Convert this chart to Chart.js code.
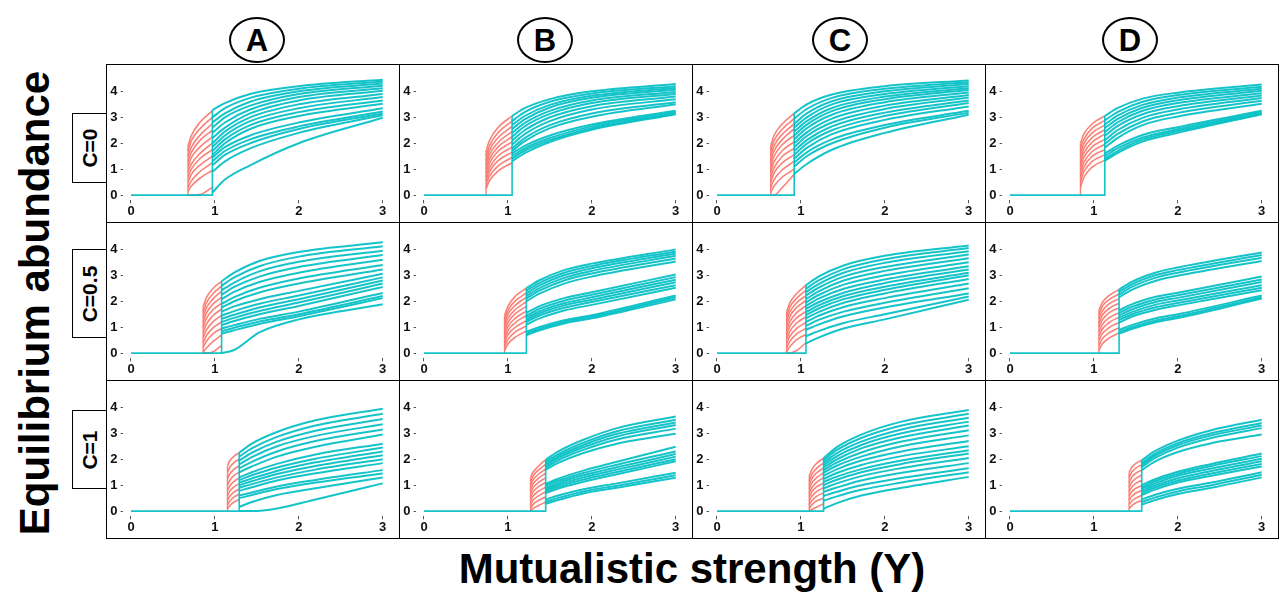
<!DOCTYPE html>
<html>
<head>
<meta charset="utf-8">
<script src="https://cdn.jsdelivr.net/npm/chart.js@4.4.1/dist/chart.umd.min.js"></script>
<style>
  body { margin: 0; width: 1279px; height: 603px; background: #fff; position: relative; overflow: hidden; font-family: "Liberation Sans", Arial, sans-serif; }
  .panel { position: absolute; width: 294px; height: 159px; border: 1px solid #000; box-sizing: border-box; }
  .panel .wrap { position: absolute; left: 0; top: 0; right: 0; bottom: 0; }
  .head { position: absolute; width: 56px; height: 46px; box-sizing: border-box; border: 2.5px solid #000; border-radius: 50%; font-weight: bold; font-size: 31px; line-height: 44px; text-align: center; }
  .rowlab { position: absolute; left: 72px; width: 35px; border: 1px solid #000; box-sizing: border-box; background: #fff; }
  .rowlab span { position: absolute; left: 50%; top: 50%; transform: translate(-50%, -50%) rotate(-90deg); font-weight: bold; font-size: 21px; white-space: nowrap; }
  .ytitle { position: absolute; left: 35px; top: 303px; transform: translate(-50%, -50%) rotate(-90deg); font-weight: bold; font-size: 42px; white-space: nowrap; }
  .xtitle { position: absolute; left: 692px; top: 569px; transform: translate(-50%, -50%); font-weight: bold; font-size: 42px; white-space: nowrap; }
</style>
</head>
<body>
<div class="ytitle">Equilibrium abundance</div>
<div class="xtitle">Mutualistic strength (Y)</div>
<script>
const columns = ["A", "B", "C", "D"];
const rowLabels = ["C=0", "C=0.5", "C=1"];
const xTicks = [0, 1, 2, 3];
const yTicks = [0, 1, 2, 3, 4];

// ---- C=0 ----
const redX_A0 = [0.68, 0.72, 0.82, 0.97];
const red_A0 = [
  [1.9, 2.3, 2.8, 3.25], [1.7, 2.1, 2.55, 3.0], [1.5, 1.85, 2.3, 2.75], [1.3, 1.65, 2.1, 2.5],
  [1.1, 1.45, 1.85, 2.25], [0.9, 1.2, 1.6, 2.0], [0.7, 1.0, 1.4, 1.75], [0.5, 0.8, 1.15, 1.5],
  [0.3, 0.55, 0.9, 1.25], [0.15, 0.35, 0.65, 0.95], [0, 0, 0.02, 0.3]
];
const tealX_A0 = [0.97, 1.12, 1.42, 2.0, 3.0];
const teal_A0 = [
  [3.28, 3.55, 3.9, 4.2, 4.45], [3.0, 3.35, 3.75, 4.1, 4.38], [2.8, 3.15, 3.6, 4.0, 4.3],
  [2.6, 3.0, 3.45, 3.9, 4.22], [2.4, 2.8, 3.3, 3.78, 4.12], [2.2, 2.6, 3.15, 3.65, 4.02],
  [2.0, 2.45, 3.0, 3.5, 3.9], [1.85, 2.3, 2.85, 3.35, 3.78], [1.7, 2.15, 2.7, 3.2, 3.65],
  [1.55, 2.0, 2.55, 3.05, 3.52], [1.45, 1.85, 2.3, 2.8, 3.35], [1.3, 1.7, 2.15, 2.65, 3.22],
  [1.15, 1.55, 2.0, 2.55, 3.15], [0.9, 1.3, 1.8, 2.4, 3.08], [0.1, 0.6, 1.15, 2.0, 2.98]
];

const redX_B0 = [0.74, 0.78, 0.88, 1.05];
const red_B0 = [
  [1.7, 2.1, 2.6, 3.05], [1.5, 1.9, 2.4, 2.85], [1.3, 1.72, 2.2, 2.65], [1.15, 1.55, 2.02, 2.45],
  [1.0, 1.38, 1.85, 2.25], [0.85, 1.22, 1.68, 2.05], [0.7, 1.05, 1.5, 1.85], [0.55, 0.9, 1.32, 1.65],
  [0.4, 0.72, 1.12, 1.45], [0.25, 0.55, 0.92, 1.25]
];
const tealX_B0 = [1.05, 1.2, 1.5, 2.0, 3.0];
const teal_B0 = [
  [3.05, 3.35, 3.7, 4.0, 4.28], [2.85, 3.2, 3.6, 3.92, 4.2], [2.7, 3.05, 3.48, 3.83, 4.13],
  [2.55, 2.92, 3.38, 3.75, 4.06], [2.4, 2.78, 3.25, 3.65, 3.98], [2.25, 2.65, 3.13, 3.55, 3.9],
  [2.1, 2.5, 3.0, 3.43, 3.8], [1.95, 2.35, 2.85, 3.3, 3.7], [1.8, 2.2, 2.7, 3.15, 3.58],
  [1.7, 2.08, 2.58, 3.02, 3.5], [1.6, 1.9, 2.3, 2.72, 3.25], [1.5, 1.8, 2.2, 2.65, 3.2],
  [1.4, 1.72, 2.12, 2.58, 3.15], [1.3, 1.62, 2.05, 2.52, 3.12]
];

const redX_C0 = [0.64, 0.68, 0.78, 0.92];
const red_C0 = [
  [1.9, 2.3, 2.75, 3.15], [1.7, 2.1, 2.55, 2.95], [1.5, 1.9, 2.35, 2.75], [1.3, 1.7, 2.15, 2.55],
  [1.1, 1.5, 1.95, 2.3], [0.9, 1.28, 1.72, 2.05], [0.7, 1.05, 1.5, 1.8], [0.5, 0.85, 1.25, 1.55],
  [0.3, 0.6, 0.98, 1.3], [0.1, 0.35, 0.7, 1.0], [0, 0, 0.3, 0.8]
];
const tealX_C0 = [0.92, 1.07, 1.37, 2.0, 3.0];
const teal_C0 = [
  [3.15, 3.5, 3.88, 4.2, 4.42], [2.95, 3.32, 3.75, 4.1, 4.35], [2.75, 3.15, 3.62, 4.0, 4.28],
  [2.6, 3.0, 3.5, 3.9, 4.2], [2.45, 2.85, 3.36, 3.8, 4.12], [2.3, 2.72, 3.24, 3.7, 4.05],
  [2.15, 2.58, 3.1, 3.58, 3.96], [2.0, 2.42, 2.95, 3.45, 3.86], [1.85, 2.28, 2.8, 3.32, 3.76],
  [1.7, 2.12, 2.65, 3.18, 3.65], [1.55, 1.98, 2.5, 3.05, 3.55], [1.4, 1.82, 2.35, 2.9, 3.42],
  [1.25, 1.65, 2.15, 2.7, 3.25], [1.1, 1.5, 2.0, 2.6, 3.18], [0.82, 1.2, 1.75, 2.4, 3.1]
];

const redX_D0 = [0.84, 0.88, 0.98, 1.13];
const red_D0 = [
  [2.0, 2.35, 2.75, 3.05], [1.8, 2.15, 2.58, 2.88], [1.6, 1.98, 2.4, 2.7], [1.42, 1.8, 2.22, 2.52],
  [1.25, 1.62, 2.04, 2.35], [1.08, 1.45, 1.86, 2.15], [0.9, 1.26, 1.68, 1.95], [0.72, 1.08, 1.5, 1.75],
  [0.52, 0.9, 1.3, 1.55], [0.3, 0.68, 1.08, 1.35]
];
const tealX_D0 = [1.13, 1.28, 1.58, 2.0, 3.0];
const teal_D0 = [
  [3.05, 3.35, 3.72, 3.95, 4.26], [2.88, 3.2, 3.6, 3.86, 4.18], [2.72, 3.06, 3.48, 3.76, 4.1],
  [2.58, 2.93, 3.37, 3.66, 4.02], [2.43, 2.8, 3.25, 3.55, 3.93], [2.28, 2.66, 3.12, 3.43, 3.84],
  [2.12, 2.5, 2.98, 3.3, 3.74], [1.98, 2.35, 2.84, 3.17, 3.64], [1.83, 2.2, 2.7, 3.03, 3.52],
  [1.6, 1.9, 2.32, 2.62, 3.25], [1.5, 1.8, 2.22, 2.54, 3.2], [1.4, 1.7, 2.14, 2.47, 3.15],
  [1.32, 1.62, 2.06, 2.4, 3.12]
];

// ---- C=0.5 ----
const redX_A1 = [0.86, 0.9, 0.98, 1.08];
const red_A1 = [
  [1.8, 2.15, 2.5, 2.77], [1.6, 1.95, 2.3, 2.58], [1.4, 1.75, 2.1, 2.38], [1.2, 1.55, 1.9, 2.15],
  [1.0, 1.34, 1.68, 1.92], [0.8, 1.12, 1.45, 1.7], [0.6, 0.9, 1.22, 1.45], [0.4, 0.68, 0.98, 1.2],
  [0.22, 0.46, 0.75, 0.95], [0.05, 0.2, 0.45, 0.7], [0, 0, 0.05, 0.3]
];
const tealX_A1 = [1.08, 1.23, 1.53, 2.0, 3.0];
const teal_A1 = [
  [2.77, 3.1, 3.55, 3.9, 4.27], [2.6, 2.92, 3.35, 3.72, 4.12], [2.42, 2.72, 3.15, 3.52, 3.95],
  [2.25, 2.55, 2.95, 3.32, 3.78], [2.08, 2.36, 2.74, 3.1, 3.6], [1.9, 2.16, 2.52, 2.88, 3.4],
  [1.75, 2.0, 2.34, 2.68, 3.22], [1.6, 1.8, 2.08, 2.4, 3.06], [1.45, 1.62, 1.9, 2.22, 2.92],
  [1.32, 1.48, 1.76, 2.08, 2.8], [1.2, 1.36, 1.62, 1.95, 2.68], [1.08, 1.24, 1.5, 1.82, 2.55],
  [0.95, 1.08, 1.32, 1.6, 2.32], [0.85, 0.98, 1.22, 1.5, 2.2], [0.75, 0.88, 1.12, 1.42, 2.12],
  [0, 0.12, 0.8, 1.3, 1.88]
];

const redX_B1 = [0.96, 1.0, 1.09, 1.22];
const red_B1 = [
  [1.45, 1.8, 2.2, 2.5], [1.3, 1.65, 2.02, 2.32], [1.15, 1.5, 1.85, 2.15], [1.0, 1.34, 1.68, 1.98],
  [0.85, 1.18, 1.52, 1.8], [0.7, 1.02, 1.35, 1.62], [0.55, 0.86, 1.18, 1.45], [0.4, 0.7, 1.0, 1.25],
  [0.25, 0.52, 0.82, 1.05], [0.1, 0.35, 0.62, 0.85]
];
const tealX_B1 = [1.22, 1.37, 1.67, 2.0, 3.0];
const teal_B1 = [
  [2.5, 2.8, 3.2, 3.45, 4.0], [2.4, 2.7, 3.1, 3.36, 3.92], [2.3, 2.6, 3.0, 3.27, 3.84],
  [2.2, 2.5, 2.9, 3.17, 3.75], [2.1, 2.4, 2.8, 3.07, 3.65], [2.0, 2.28, 2.68, 2.95, 3.53],
  [1.55, 1.8, 2.12, 2.35, 3.03], [1.45, 1.7, 2.02, 2.25, 2.93], [1.36, 1.6, 1.92, 2.15, 2.83],
  [1.28, 1.52, 1.84, 2.06, 2.73], [1.2, 1.44, 1.75, 1.97, 2.62], [1.1, 1.33, 1.64, 1.86, 2.52],
  [0.82, 1.0, 1.27, 1.46, 2.22], [0.75, 0.93, 1.2, 1.4, 2.15], [0.69, 0.87, 1.14, 1.34, 2.08]
];

const redX_C1 = [0.83, 0.87, 0.95, 1.06];
const red_C1 = [
  [1.6, 1.95, 2.3, 2.62], [1.42, 1.78, 2.12, 2.42], [1.25, 1.6, 1.94, 2.22], [1.08, 1.42, 1.76, 2.02],
  [0.9, 1.22, 1.56, 1.82], [0.72, 1.04, 1.36, 1.6], [0.55, 0.85, 1.16, 1.4], [0.38, 0.66, 0.95, 1.18],
  [0.2, 0.46, 0.74, 0.95], [0.05, 0.25, 0.52, 0.72], [0, 0, 0.1, 0.4]
];
const tealX_C1 = [1.06, 1.21, 1.51, 2.0, 3.0];
const teal_C1 = [
  [2.62, 2.95, 3.38, 3.75, 4.15], [2.48, 2.8, 3.24, 3.62, 4.05], [2.35, 2.66, 3.1, 3.48, 3.93],
  [2.22, 2.52, 2.95, 3.32, 3.8], [2.08, 2.38, 2.8, 3.17, 3.66], [1.95, 2.24, 2.64, 3.0, 3.5],
  [1.82, 2.1, 2.48, 2.84, 3.35], [1.7, 1.96, 2.33, 2.7, 3.22], [1.58, 1.84, 2.2, 2.56, 3.1],
  [1.46, 1.72, 2.08, 2.44, 3.0], [1.34, 1.58, 1.94, 2.3, 2.86], [1.2, 1.44, 1.78, 2.12, 2.68],
  [1.05, 1.28, 1.6, 1.94, 2.5], [0.9, 1.1, 1.42, 1.76, 2.3], [0.65, 0.85, 1.16, 1.5, 2.18],
  [0.37, 0.6, 0.95, 1.3, 2.06]
];

const redX_D1 = [1.06, 1.1, 1.18, 1.3];
const red_D1 = [
  [1.65, 1.95, 2.22, 2.45], [1.48, 1.8, 2.06, 2.28], [1.32, 1.62, 1.9, 2.1], [1.15, 1.45, 1.72, 1.92],
  [1.0, 1.28, 1.55, 1.75], [0.82, 1.1, 1.36, 1.56], [0.65, 0.92, 1.18, 1.38], [0.48, 0.74, 0.98, 1.18],
  [0.3, 0.55, 0.78, 0.98], [0.12, 0.35, 0.58, 0.78]
];
const tealX_D1 = [1.3, 1.45, 1.75, 2.0, 3.0];
const teal_D1 = [
  [2.45, 2.75, 3.12, 3.3, 3.88], [2.35, 2.65, 3.02, 3.2, 3.78], [2.25, 2.55, 2.92, 3.1, 3.68],
  [2.15, 2.44, 2.8, 2.98, 3.55], [1.65, 1.88, 2.18, 2.33, 2.95], [1.55, 1.78, 2.08, 2.23, 2.84],
  [1.45, 1.68, 1.98, 2.13, 2.74], [1.36, 1.58, 1.88, 2.03, 2.62], [1.27, 1.49, 1.78, 1.93, 2.52],
  [1.18, 1.4, 1.68, 1.84, 2.42], [0.9, 1.08, 1.35, 1.5, 2.22], [0.82, 1.0, 1.27, 1.42, 2.15],
  [0.75, 0.93, 1.2, 1.35, 2.1]
];

// ---- C=1 ----
const redX_A2 = [1.15, 1.18, 1.23, 1.29];
const red_A2 = [
  [1.75, 1.95, 2.12, 2.25], [1.5, 1.7, 1.88, 2.0], [1.25, 1.45, 1.62, 1.75], [1.0, 1.2, 1.38, 1.5],
  [0.8, 0.98, 1.15, 1.28], [0.6, 0.78, 0.94, 1.06], [0.42, 0.58, 0.74, 0.85], [0.25, 0.4, 0.55, 0.65],
  [0.1, 0.22, 0.35, 0.45]
];
const tealX_A2 = [1.29, 1.44, 1.74, 2.2, 3.0];
const teal_A2 = [
  [2.25, 2.6, 3.05, 3.5, 3.95], [2.1, 2.42, 2.86, 3.3, 3.75], [1.95, 2.25, 2.68, 3.1, 3.55],
  [1.8, 2.08, 2.5, 2.9, 3.35], [1.65, 1.9, 2.3, 2.7, 3.15], [1.5, 1.72, 2.1, 2.48, 2.95],
  [1.3, 1.5, 1.82, 2.18, 2.6], [1.2, 1.38, 1.68, 2.02, 2.45], [1.1, 1.26, 1.55, 1.88, 2.3],
  [1.0, 1.15, 1.43, 1.74, 2.15], [0.9, 1.04, 1.3, 1.6, 2.0], [0.78, 0.92, 1.18, 1.46, 1.85],
  [0.6, 0.72, 0.95, 1.2, 1.58], [0.5, 0.62, 0.85, 1.1, 1.45], [0.16, 0.35, 0.62, 0.88, 1.3],
  [0, 0, 0.1, 0.45, 1.07]
];

const redX_B2 = [1.27, 1.3, 1.37, 1.45];
const red_B2 = [
  [1.3, 1.5, 1.75, 1.98], [1.15, 1.35, 1.6, 1.8], [1.0, 1.2, 1.44, 1.62], [0.85, 1.05, 1.28, 1.45],
  [0.7, 0.9, 1.12, 1.28], [0.55, 0.74, 0.95, 1.1], [0.4, 0.58, 0.78, 0.92], [0.25, 0.42, 0.6, 0.74],
  [0.1, 0.26, 0.42, 0.55], [0, 0.1, 0.22, 0.35]
];
const tealX_B2 = [1.45, 1.6, 1.9, 2.3, 3.0];
const teal_B2 = [
  [1.98, 2.3, 2.75, 3.2, 3.65], [1.9, 2.2, 2.64, 3.08, 3.52], [1.82, 2.12, 2.55, 2.98, 3.42],
  [1.75, 2.04, 2.46, 2.88, 3.32], [1.68, 1.96, 2.36, 2.76, 3.18], [1.6, 1.86, 2.24, 2.6, 2.98],
  [1.05, 1.25, 1.56, 1.9, 2.48], [0.98, 1.17, 1.47, 1.79, 2.3], [0.9, 1.09, 1.38, 1.69, 2.2],
  [0.84, 1.02, 1.3, 1.6, 2.1], [0.77, 0.95, 1.22, 1.51, 2.0], [0.7, 0.87, 1.13, 1.42, 1.92],
  [0.45, 0.6, 0.84, 1.07, 1.48], [0.36, 0.51, 0.76, 0.98, 1.38], [0.28, 0.43, 0.68, 0.9, 1.29]
];

const redX_C2 = [1.1, 1.13, 1.19, 1.27];
const red_C2 = [
  [1.35, 1.6, 1.85, 2.04], [1.18, 1.42, 1.66, 1.85], [1.02, 1.25, 1.48, 1.66], [0.86, 1.08, 1.3, 1.47],
  [0.7, 0.9, 1.12, 1.28], [0.55, 0.74, 0.94, 1.08], [0.4, 0.57, 0.76, 0.9], [0.25, 0.4, 0.58, 0.7],
  [0.1, 0.24, 0.4, 0.5], [0, 0.06, 0.16, 0.28]
];
const tealX_C2 = [1.27, 1.42, 1.72, 2.2, 3.0];
const teal_C2 = [
  [2.04, 2.45, 2.95, 3.45, 3.9], [1.95, 2.34, 2.82, 3.3, 3.75], [1.86, 2.22, 2.68, 3.15, 3.6],
  [1.77, 2.1, 2.55, 3.0, 3.45], [1.68, 1.98, 2.42, 2.85, 3.3], [1.58, 1.86, 2.26, 2.68, 3.12],
  [1.48, 1.74, 2.1, 2.5, 2.92], [1.36, 1.6, 1.95, 2.3, 2.7], [1.24, 1.46, 1.78, 2.12, 2.5],
  [1.12, 1.32, 1.62, 1.95, 2.35], [1.0, 1.2, 1.5, 1.82, 2.22], [0.88, 1.06, 1.35, 1.66, 2.05],
  [0.74, 0.9, 1.18, 1.48, 1.85], [0.58, 0.74, 1.0, 1.28, 1.65], [0.4, 0.56, 0.82, 1.1, 1.5],
  [0.09, 0.3, 0.6, 0.9, 1.32]
];

const redX_D2 = [1.42, 1.45, 1.5, 1.57];
const red_D2 = [
  [1.5, 1.68, 1.84, 1.96], [1.3, 1.5, 1.66, 1.78], [1.1, 1.3, 1.46, 1.58], [0.92, 1.1, 1.26, 1.38],
  [0.75, 0.92, 1.07, 1.18], [0.58, 0.74, 0.88, 0.98], [0.42, 0.56, 0.7, 0.8], [0.26, 0.38, 0.5, 0.6],
  [0.1, 0.2, 0.32, 0.4]
];
const tealX_D2 = [1.57, 1.72, 2.0, 2.4, 3.0];
const teal_D2 = [
  [1.95, 2.3, 2.72, 3.12, 3.52], [1.85, 2.2, 2.62, 3.0, 3.4], [1.78, 2.12, 2.54, 2.92, 3.3],
  [1.7, 2.03, 2.45, 2.82, 3.2], [1.58, 1.9, 2.28, 2.62, 2.95], [1.0, 1.22, 1.52, 1.82, 2.22],
  [0.92, 1.14, 1.44, 1.74, 2.12], [0.85, 1.06, 1.36, 1.64, 2.02], [0.78, 0.98, 1.27, 1.55, 1.92],
  [0.7, 0.9, 1.18, 1.45, 1.82], [0.62, 0.82, 1.1, 1.36, 1.72], [0.45, 0.62, 0.86, 1.1, 1.5],
  [0.35, 0.52, 0.76, 1.0, 1.4], [0.25, 0.42, 0.66, 0.9, 1.3]
];

const panels = [
  [[redX_A0, red_A0, tealX_A0, teal_A0], [redX_B0, red_B0, tealX_B0, teal_B0], [redX_C0, red_C0, tealX_C0, teal_C0], [redX_D0, red_D0, tealX_D0, teal_D0]],
  [[redX_A1, red_A1, tealX_A1, teal_A1], [redX_B1, red_B1, tealX_B1, teal_B1], [redX_C1, red_C1, tealX_C1, teal_C1], [redX_D1, red_D1, tealX_D1, teal_D1]],
  [[redX_A2, red_A2, tealX_A2, teal_A2], [redX_B2, red_B2, tealX_B2, teal_B2], [redX_C2, red_C2, tealX_C2, teal_C2], [redX_D2, red_D2, tealX_D2, teal_D2]],
];

const teal = "rgba(0,191,196,0.92)";
const red = "rgba(248,118,109,0.92)";
const tickFont = { family: '"Liberation Sans", Arial, sans-serif', size: 13, weight: "bold" };

// headers
const headX = [257, 545, 840, 1130];
columns.forEach((c, i) => {
  const d = document.createElement("div");
  d.className = "head";
  d.style.left = headX[i] - 28 + "px";
  d.style.top = "17px";
  d.textContent = c;
  document.body.appendChild(d);
});

// row labels
const rowBoxes = [[113, 70], [249, 89], [410, 79]];
rowLabels.forEach((t, i) => {
  const d = document.createElement("div");
  d.className = "rowlab";
  d.style.top = rowBoxes[i][0] + "px";
  d.style.height = rowBoxes[i][1] + "px";
  d.innerHTML = "<span>" + t + "</span>";
  document.body.appendChild(d);
});

function curve(xs, ys, color, width, order) {
  return {
    data: xs.map((x, i) => ({ x: x, y: ys[i] })),
    borderColor: color, borderWidth: width, pointRadius: 0,
    cubicInterpolationMode: "monotone", fill: false, order: order,
  };
}

panels.forEach((row, r) => {
  row.forEach((p, c) => {
    const [rx, reds, tx, teals] = p;
    const div = document.createElement("div");
    div.className = "panel";
    div.style.left = 106 + c * 293 + "px";
    div.style.top = 64 + r * 158 + "px";
    div.innerHTML = '<div class="wrap"><canvas></canvas></div>';
    document.body.appendChild(div);

    const xj = tx[0];
    const tealTop = Math.max(...teals.map((t) => t[0]));
    const redTop = Math.max(...reds.map((t) => t[0]));
    const datasets = [];
    // flat branch at zero, then the jump
    datasets.push({
      data: [{ x: 0, y: 0 }, { x: xj, y: 0 }, { x: xj, y: tealTop }],
      borderColor: teal, borderWidth: 1.6, pointRadius: 0, tension: 0, order: 0,
    });
    teals.forEach((t) => datasets.push(curve(tx, t, teal, 2.0, 1)));
    // backward branch
    datasets.push({
      data: [{ x: rx[0], y: 0 }, { x: rx[0], y: redTop }],
      borderColor: red, borderWidth: 1.4, pointRadius: 0, tension: 0, order: 2,
    });
    reds.forEach((t) => datasets.push(curve(rx, t, red, 1.6, 2)));

    new Chart(div.querySelector("canvas").getContext("2d"), {
      type: "line",
      data: { datasets },
      options: {
        responsive: true,
        maintainAspectRatio: false,
        animation: false,
        layout: { padding: { top: 8.3, right: 7.9, left: 0, bottom: 0 } },
        plugins: { legend: { display: false }, tooltip: { enabled: false } },
        scales: {
          x: {
            type: "linear", min: -0.1, max: 3.1,
            afterBuildTicks: (s) => { s.ticks = xTicks.map((v) => ({ value: v })); },
            afterFit: (s) => { s.height = 21.7; },
            grid: { display: true, drawOnChartArea: false, drawTicks: true, tickLength: 3, color: "#555" },
            border: { display: false },
            ticks: { font: tickFont, color: "#111", padding: 0, maxRotation: 0 },
          },
          y: {
            type: "linear", min: -0.2, max: 4.6,
            afterBuildTicks: (s) => { s.ticks = yTicks.map((v) => ({ value: v })); },
            afterFit: (s) => { s.width = 15.6; },
            grid: { display: true, drawOnChartArea: false, drawTicks: true, tickLength: 2, color: "#555" },
            border: { display: false },
            ticks: { font: tickFont, color: "#111", padding: 3 },
          },
        },
      },
    });
  });
});
</script>
</body>
</html>
